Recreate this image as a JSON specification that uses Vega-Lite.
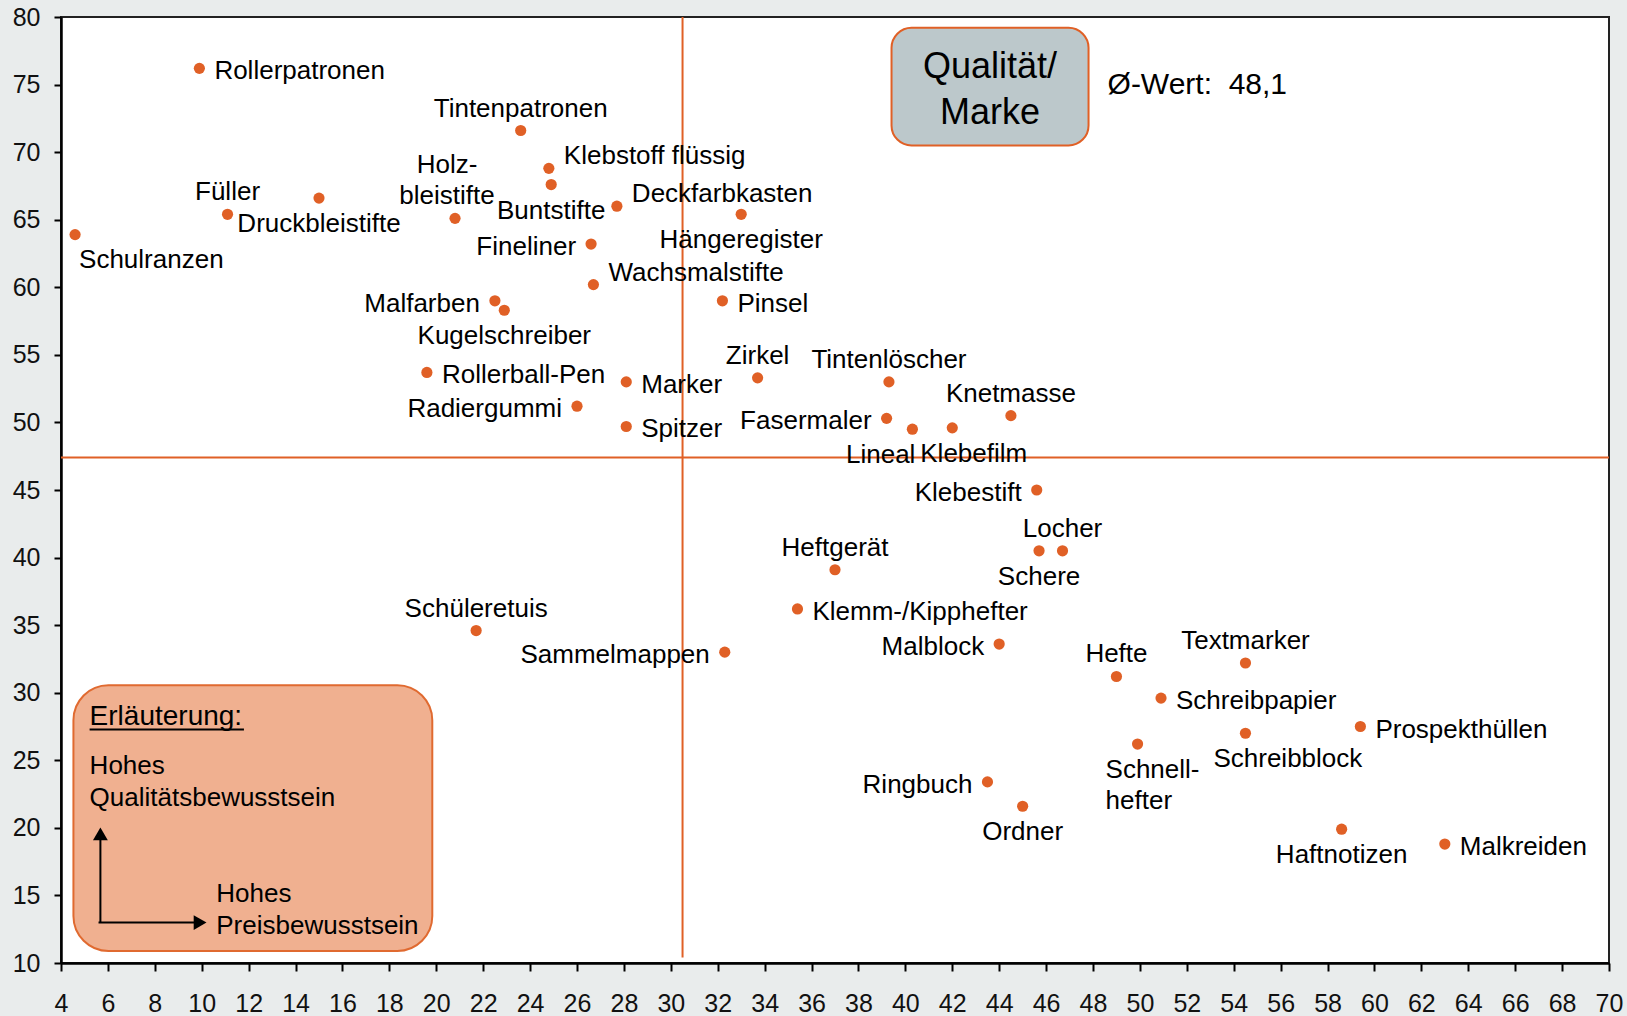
{
  "$schema": "https://vega.github.io/schema/vega-lite/v6.json",
  "width": 1548,
  "height": 946,
  "autosize": {"type": "none"},
  "padding": {"left": 61, "top": 17, "right": 18, "bottom": 53},
  "background": "#E9ECEC",
  "config": {
    "font": "Liberation Sans",
    "view": {"fill": "white", "stroke": "#222", "strokeWidth": 2},
    "axis": {
      "grid": false, "labelFontSize": 25, "labelColor": "#111", "labelFlush": false,
      "tickWidth": 2, "tickColor": "#000", "domainColor": "#000", "domainWidth": 2.5,
      "title": null
    },
    "axisX": {"tickSize": 8, "labelPadding": 20},
    "axisY": {"tickSize": 7, "labelPadding": 14}
  },
  "data": {
    "values": [
      {"name": "Rollerpatronen", "x": 9.9, "y": 76.2, "pos": "r"},
      {"name": "Tintenpatronen", "x": 23.6, "y": 71.6, "pos": "a"},
      {"name": "Klebstoff flüssig", "x": 24.8, "y": 68.8, "pos": "ru"},
      {"name": "Buntstifte", "x": 24.9, "y": 67.6, "pos": "b"},
      {"name": "Füller", "x": 11.1, "y": 65.4, "pos": "a"},
      {"name": "Druckbleistifte", "x": 15.0, "y": 66.6, "pos": "b"},
      {"name": "Holz-\nbleistifte", "x": 20.8, "y": 65.1, "pos": "a2"},
      {"name": "Schulranzen", "x": 4.6, "y": 63.9, "pos": "se"},
      {"name": "Deckfarbkasten", "x": 27.7, "y": 66.0, "pos": "ru"},
      {"name": "Hängeregister", "x": 33.0, "y": 65.4, "pos": "b"},
      {"name": "Fineliner", "x": 26.6, "y": 63.2, "pos": "l"},
      {"name": "Wachsmalstifte", "x": 26.7, "y": 60.2, "pos": "ru"},
      {"name": "Pinsel", "x": 32.2, "y": 59.0, "pos": "r"},
      {"name": "Malfarben", "x": 22.5, "y": 59.0, "pos": "l"},
      {"name": "Kugelschreiber", "x": 22.9, "y": 58.3, "pos": "b"},
      {"name": "Rollerball-Pen", "x": 19.6, "y": 53.7, "pos": "r"},
      {"name": "Radiergummi", "x": 26.0, "y": 51.2, "pos": "l"},
      {"name": "Marker", "x": 28.1, "y": 53.0, "pos": "r"},
      {"name": "Spitzer", "x": 28.1, "y": 49.7, "pos": "r"},
      {"name": "Zirkel", "x": 33.7, "y": 53.3, "pos": "a"},
      {"name": "Tintenlöscher", "x": 39.3, "y": 53.0, "pos": "a"},
      {"name": "Fasermaler", "x": 39.2, "y": 50.3, "pos": "l"},
      {"name": "Lineal", "x": 40.3, "y": 49.5, "pos": "bl"},
      {"name": "Klebefilm", "x": 42.0, "y": 49.6, "pos": "br"},
      {"name": "Knetmasse", "x": 44.5, "y": 50.5, "pos": "a"},
      {"name": "Klebestift", "x": 45.6, "y": 45.0, "pos": "l"},
      {"name": "Schere", "x": 45.7, "y": 40.5, "pos": "b"},
      {"name": "Locher", "x": 46.7, "y": 40.5, "pos": "a"},
      {"name": "Heftgerät", "x": 37.0, "y": 39.1, "pos": "a"},
      {"name": "Klemm-/Kipphefter", "x": 35.4, "y": 36.2, "pos": "r"},
      {"name": "Malblock", "x": 44.0, "y": 33.6, "pos": "l"},
      {"name": "Sammelmappen", "x": 32.3, "y": 33.0, "pos": "l"},
      {"name": "Schüleretuis", "x": 21.7, "y": 34.6, "pos": "a"},
      {"name": "Hefte", "x": 49.0, "y": 31.2, "pos": "a"},
      {"name": "Textmarker", "x": 54.5, "y": 32.2, "pos": "a"},
      {"name": "Schreibpapier", "x": 50.9, "y": 29.6, "pos": "r"},
      {"name": "Schnell-\nhefter", "x": 49.9, "y": 26.2, "pos": "br"},
      {"name": "Schreibblock", "x": 54.5, "y": 27.0, "pos": "br"},
      {"name": "Prospekthüllen", "x": 59.4, "y": 27.5, "pos": "r"},
      {"name": "Haftnotizen", "x": 58.6, "y": 19.9, "pos": "b"},
      {"name": "Malkreiden", "x": 63.0, "y": 18.8, "pos": "r"},
      {"name": "Ringbuch", "x": 43.5, "y": 23.4, "pos": "l"},
      {"name": "Ordner", "x": 45.0, "y": 21.6, "pos": "b"}
    ]
  },
  "layer": [
    {
      "data": {"values": [{}]},
      "mark": {"type": "rule", "color": "#E06026", "strokeWidth": 2},
      "encoding": {
        "x": {"datum": 30.5, "type": "quantitative", "title": null},
        "y": {"datum": 80, "type": "quantitative", "title": null},
        "y2": {"datum": 10.4}
      }
    },
    {
      "data": {"values": [{}]},
      "mark": {"type": "rule", "color": "#E06026", "strokeWidth": 2},
      "encoding": {
        "y": {"datum": 47.4, "type": "quantitative", "title": null}
      }
    },
    {
      "mark": {"type": "circle", "color": "#E06026", "opacity": 1, "size": 125},
      "encoding": {
        "x": {
          "field": "x", "type": "quantitative", "title": null,
          "scale": {"domain": [4, 70], "nice": false, "zero": false},
          "axis": {
            "values": [4,6,8,10,12,14,16,18,20,22,24,26,28,30,32,34,36,38,40,42,44,46,48,50,52,54,56,58,60,62,64,66,68,70],
            "grid": false, "title": null
          }
        },
        "y": {
          "field": "y", "type": "quantitative", "title": null,
          "scale": {"domain": [10, 80], "nice": false, "zero": false},
          "axis": {
            "values": [10,15,20,25,30,35,40,45,50,55,60,65,70,75,80],
            "grid": false, "title": null
          }
        }
      }
    },
    {
      "transform": [{"filter": "datum.pos === 'r'"}],
      "mark": {"type": "text", "align": "left", "baseline": "middle", "dx": 15, "dy": 3, "fontSize": 26, "color": "#000", "lineBreak": "\n"},
      "encoding": {
        "x": {"field": "x", "type": "quantitative", "title": null},
        "y": {"field": "y", "type": "quantitative", "title": null},
        "text": {"field": "name"}
      }
    },
    {
      "transform": [{"filter": "datum.pos === 'ru'"}],
      "mark": {"type": "text", "align": "left", "baseline": "middle", "dx": 15, "dy": -12, "fontSize": 26, "color": "#000", "lineBreak": "\n"},
      "encoding": {
        "x": {"field": "x", "type": "quantitative", "title": null},
        "y": {"field": "y", "type": "quantitative", "title": null},
        "text": {"field": "name"}
      }
    },
    {
      "transform": [{"filter": "datum.pos === 'l'"}],
      "mark": {"type": "text", "align": "right", "baseline": "middle", "dx": -15, "dy": 3, "fontSize": 26, "color": "#000", "lineBreak": "\n"},
      "encoding": {
        "x": {"field": "x", "type": "quantitative", "title": null},
        "y": {"field": "y", "type": "quantitative", "title": null},
        "text": {"field": "name"}
      }
    },
    {
      "transform": [{"filter": "datum.pos === 'a'"}],
      "mark": {"type": "text", "align": "center", "baseline": "bottom", "dy": -9, "fontSize": 26, "color": "#000", "lineBreak": "\n", "lineHeight": 31},
      "encoding": {
        "x": {"field": "x", "type": "quantitative", "title": null},
        "y": {"field": "y", "type": "quantitative", "title": null},
        "text": {"field": "name"}
      }
    },
    {
      "transform": [{"filter": "datum.pos === 'a2'"}],
      "mark": {"type": "text", "align": "center", "baseline": "bottom", "dx": -8, "dy": -40, "fontSize": 26, "color": "#000", "lineBreak": "\n", "lineHeight": 31},
      "encoding": {
        "x": {"field": "x", "type": "quantitative", "title": null},
        "y": {"field": "y", "type": "quantitative", "title": null},
        "text": {"field": "name"}
      }
    },
    {
      "transform": [{"filter": "datum.pos === 'b'"}],
      "mark": {"type": "text", "align": "center", "baseline": "top", "dy": 13, "fontSize": 26, "color": "#000", "lineBreak": "\n", "lineHeight": 31},
      "encoding": {
        "x": {"field": "x", "type": "quantitative", "title": null},
        "y": {"field": "y", "type": "quantitative", "title": null},
        "text": {"field": "name"}
      }
    },
    {
      "transform": [{"filter": "datum.pos === 'bl'"}],
      "mark": {"type": "text", "align": "right", "baseline": "top", "dx": 3, "dy": 13, "fontSize": 26, "color": "#000", "lineBreak": "\n", "lineHeight": 31},
      "encoding": {
        "x": {"field": "x", "type": "quantitative", "title": null},
        "y": {"field": "y", "type": "quantitative", "title": null},
        "text": {"field": "name"}
      }
    },
    {
      "transform": [{"filter": "datum.pos === 'br'"}],
      "mark": {"type": "text", "align": "left", "baseline": "top", "dx": -32, "dy": 13, "fontSize": 26, "color": "#000", "lineBreak": "\n", "lineHeight": 31},
      "encoding": {
        "x": {"field": "x", "type": "quantitative", "title": null},
        "y": {"field": "y", "type": "quantitative", "title": null},
        "text": {"field": "name"}
      }
    },
    {
      "transform": [{"filter": "datum.pos === 'se'"}],
      "mark": {"type": "text", "align": "left", "baseline": "top", "dx": 4, "dy": 12, "fontSize": 26, "color": "#000", "lineBreak": "\n"},
      "encoding": {
        "x": {"field": "x", "type": "quantitative", "title": null},
        "y": {"field": "y", "type": "quantitative", "title": null},
        "text": {"field": "name"}
      }
    },
    {
      "data": {"values": [{}]},
      "mark": {"type": "rect", "fill": "#BCC8CB", "stroke": "#E06026", "strokeWidth": 2, "cornerRadius": 20},
      "encoding": {
        "x": {"datum": 39.41, "type": "quantitative", "title": null},
        "x2": {"datum": 47.81},
        "y": {"datum": 79.2, "type": "quantitative", "title": null},
        "y2": {"datum": 70.5}
      }
    },
    {
      "data": {"values": [{}]},
      "mark": {"type": "text", "text": ["Qualität/", "Marke"], "align": "center", "baseline": "middle", "fontSize": 36, "lineHeight": 46, "color": "#000"},
      "encoding": {
        "x": {"datum": 43.61, "type": "quantitative", "title": null},
        "y": {"datum": 76.29, "type": "quantitative", "title": null}
      }
    },
    {
      "data": {"values": [{}]},
      "mark": {"type": "text", "text": "Ø-Wert:\u00a0\u00a048,1", "align": "left", "baseline": "middle", "fontSize": 30, "color": "#000"},
      "encoding": {
        "x": {"datum": 48.62, "type": "quantitative", "title": null},
        "y": {"datum": 74.95, "type": "quantitative", "title": null}
      }
    },
    {
      "data": {"values": [{}]},
      "mark": {"type": "rect", "fill": "#F0B090", "stroke": "#E06A30", "strokeWidth": 2, "cornerRadius": 35},
      "encoding": {
        "x": {"datum": 4.53, "type": "quantitative", "title": null},
        "x2": {"datum": 19.83},
        "y": {"datum": 30.55, "type": "quantitative", "title": null},
        "y2": {"datum": 10.89}
      }
    },
    {
      "data": {"values": [{}]},
      "mark": {"type": "text", "text": "Erläuterung:", "align": "left", "baseline": "middle", "fontSize": 28, "color": "#000"},
      "encoding": {
        "x": {"datum": 5.22, "type": "quantitative", "title": null},
        "y": {"datum": 28.2, "type": "quantitative", "title": null}
      }
    },
    {
      "data": {"values": [{}]},
      "mark": {"type": "rule", "color": "#000", "strokeWidth": 2},
      "encoding": {
        "x": {"datum": 5.22, "type": "quantitative", "title": null},
        "x2": {"datum": 11.8},
        "y": {"datum": 27.27, "type": "quantitative", "title": null}
      }
    },
    {
      "data": {"values": [{}]},
      "mark": {"type": "text", "text": ["Hohes", "Qualitätsbewusstsein"], "align": "left", "baseline": "middle", "fontSize": 26, "lineHeight": 32, "color": "#000"},
      "encoding": {
        "x": {"datum": 5.22, "type": "quantitative", "title": null},
        "y": {"datum": 24.57, "type": "quantitative", "title": null}
      }
    },
    {
      "data": {"values": [{}]},
      "mark": {"type": "text", "text": ["Hohes", "Preisbewusstsein"], "align": "left", "baseline": "middle", "fontSize": 26, "lineHeight": 32, "color": "#000"},
      "encoding": {
        "x": {"datum": 10.62, "type": "quantitative", "title": null},
        "y": {"datum": 15.1, "type": "quantitative", "title": null}
      }
    },
    {
      "data": {"values": [{}]},
      "mark": {"type": "rule", "color": "#000", "strokeWidth": 2},
      "encoding": {
        "x": {"datum": 5.68, "type": "quantitative", "title": null},
        "y": {"datum": 12.99, "type": "quantitative", "title": null},
        "y2": {"datum": 19.3}
      }
    },
    {
      "data": {"values": [{}]},
      "mark": {"type": "rule", "color": "#000", "strokeWidth": 2},
      "encoding": {
        "x": {"datum": 5.6, "type": "quantitative", "title": null},
        "x2": {"datum": 9.9},
        "y": {"datum": 12.99, "type": "quantitative", "title": null}
      }
    },
    {
      "data": {"values": [{}]},
      "mark": {"type": "point", "shape": "triangle-up", "filled": true, "color": "#000", "opacity": 1, "size": 220},
      "encoding": {
        "x": {"datum": 5.68, "type": "quantitative", "title": null},
        "y": {"datum": 19.55, "type": "quantitative", "title": null}
      }
    },
    {
      "data": {"values": [{}]},
      "mark": {"type": "point", "shape": "triangle-right", "filled": true, "color": "#000", "opacity": 1, "size": 220},
      "encoding": {
        "x": {"datum": 9.93, "type": "quantitative", "title": null},
        "y": {"datum": 12.99, "type": "quantitative", "title": null}
      }
    }
  ]
}
